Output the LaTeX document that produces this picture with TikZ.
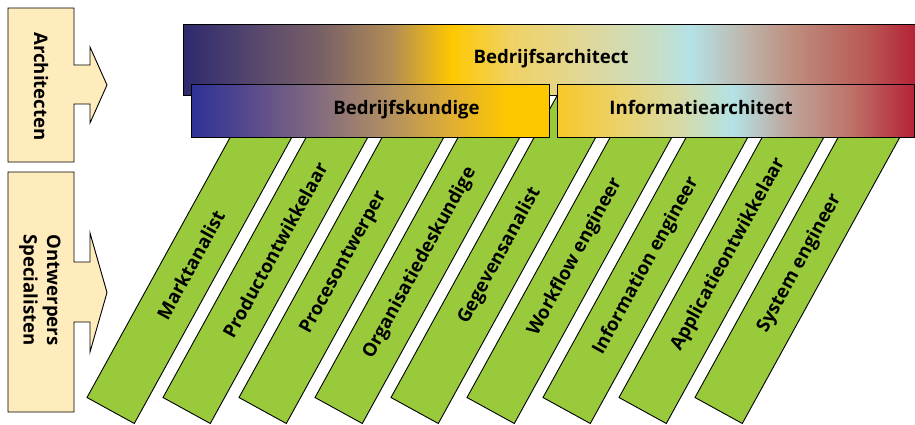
\documentclass[tikz,border=0pt]{standalone}
\usepackage{fontspec}
\setmainfont{Open Sans}
\usetikzlibrary{calc}

% palette
\definecolor{cream}{RGB}{255,236,188}
\definecolor{rolegreen}{RGB}{153,202,60}
% Bedrijfsarchitect band
\definecolor{ab0}{RGB}{45,42,110}
\definecolor{ab1}{RGB}{85,70,110}
\definecolor{ab2}{RGB}{122,97,102}
\definecolor{ab3}{RGB}{178,140,85}
\definecolor{ab4}{RGB}{254,200,0}
\definecolor{ab5}{RGB}{240,210,100}
\definecolor{ab6}{RGB}{225,215,150}
\definecolor{ab7}{RGB}{200,222,195}
\definecolor{ab8}{RGB}{180,226,230}
\definecolor{ab9}{RGB}{190,180,170}
\definecolor{ab10}{RGB}{190,140,125}
\definecolor{ab11}{RGB}{185,90,85}
\definecolor{ab12}{RGB}{180,35,55}
% Bedrijfskundige band
\definecolor{bk0}{RGB}{45,50,150}
\definecolor{bk1}{RGB}{90,75,140}
\definecolor{bk2}{RGB}{135,110,125}
\definecolor{bk3}{RGB}{180,145,95}
\definecolor{bk4}{RGB}{225,175,50}
\definecolor{bk5}{RGB}{253,200,0}
% Informatiearchitect band
\definecolor{ia0}{RGB}{248,200,40}
\definecolor{ia1}{RGB}{235,210,110}
\definecolor{ia2}{RGB}{215,218,165}
\definecolor{ia3}{RGB}{180,226,230}
\definecolor{ia4}{RGB}{190,165,155}
\definecolor{ia5}{RGB}{190,115,105}
\definecolor{ia6}{RGB}{180,35,55}

% stops between 25bp and 75bp cover the filled path
\pgfdeclarehorizontalshading{archshade}{100bp}{%
  color(0bp)=(ab0); color(25bp)=(ab0); color(29.65bp)=(ab1);
  color(34.5bp)=(ab2); color(39.25bp)=(ab3); color(43.35bp)=(ab4);
  color(47.4bp)=(ab5); color(52.2bp)=(ab6); color(57.05bp)=(ab7);
  color(59.65bp)=(ab8); color(63.5bp)=(ab9); color(66.75bp)=(ab10);
  color(71.6bp)=(ab11); color(75bp)=(ab12); color(100bp)=(ab12)}
\pgfdeclarehorizontalshading{bkshade}{100bp}{%
  color(0bp)=(bk0); color(25bp)=(bk0); color(33.5bp)=(bk1);
  color(43.5bp)=(bk2); color(53bp)=(bk3); color(61.5bp)=(bk4);
  color(69bp)=(bk5); color(75bp)=(bk5); color(100bp)=(bk5)}
\pgfdeclarehorizontalshading{iashade}{100bp}{%
  color(0bp)=(ia0); color(25bp)=(ia0); color(34bp)=(ia1);
  color(42bp)=(ia2); color(49.5bp)=(ia3); color(57.5bp)=(ia4);
  color(66bp)=(ia5); color(75bp)=(ia6); color(100bp)=(ia6)}

\begin{document}
\begin{tikzpicture}[x=1pt,y=-1pt,
  outline/.style={draw=black, line width=0.9pt, line join=miter},
  lbl/.style={font=\bfseries\fontsize{18.6}{23.5}\selectfont, inner sep=0pt},
  rolebar/.style={outline, fill=rolegreen},
  band/.style={outline, rectangle, inner sep=0pt, anchor=north west}]
\useasboundingbox (0,0) rectangle (915,424);

% slanted role bars, each with its title along the bar
\foreach \i/\txt/\ty in {0/Marktanalist/265, 1/Productontwikkelaar/250,
    2/Procesontwerper/263, 3/Organisatiedeskundige/263,
    4/Gegevensanalist/256, 5/Workflow engineer/257,
    6/Information engineer/266, 7/Applicatieontwikkelaar/254.5,
    8/System engineer/263.5} {
  \draw[rolebar] ({87+76*\i},397.5) -- ++(47.3,26) -- ++(186,-338)
    -- ++(-47.3,-26) -- cycle;
  \node[lbl, rotate=61.2] (role\i) at ({110.65+76*\i+0.5502*(410.5-\ty)},\ty) {\txt};
}

% architect bands
\node[band, shading=archshade, minimum width=731.5, minimum height=71]
  (archband) at (183,24) {};
\node[band, shading=bkshade, minimum width=358, minimum height=53]
  (bkband) at (191,84) {};
\node[band, shading=iashade, minimum width=357, minimum height=53]
  (iaband) at (557,84) {};
\node[lbl, anchor=base] (archtxt) at (551,63) {Bedrijfsarchitect};
\node[lbl, anchor=base] (bktxt) at (406.5,114.5) {Bedrijfskundige};
\node[lbl, anchor=base] (iatxt) at (701,114.5) {Informatiearchitect};

% level arrows on the left
\draw[outline, fill=cream] (8,8) -- (74,8) -- (74,65) -- (90,65) -- (90,47)
  -- (107,85) -- (90,123) -- (90,104) -- (74,104) -- (74,162) -- (8,162) -- cycle;
\draw[outline, fill=cream] (8,172) -- (74,172) -- (74,262) -- (90,262) -- (90,233)
  -- (107,292.5) -- (90,352) -- (90,322) -- (74,322) -- (74,412) -- (8,412) -- cycle;
\node[lbl, rotate=-90] (archlvl) at (41,86.5) {Architecten};
\node[lbl, rotate=-90, align=center] (speclvl) at (40,290) {Ontwerpers\\Specialisten};
\end{tikzpicture}
\end{document}
